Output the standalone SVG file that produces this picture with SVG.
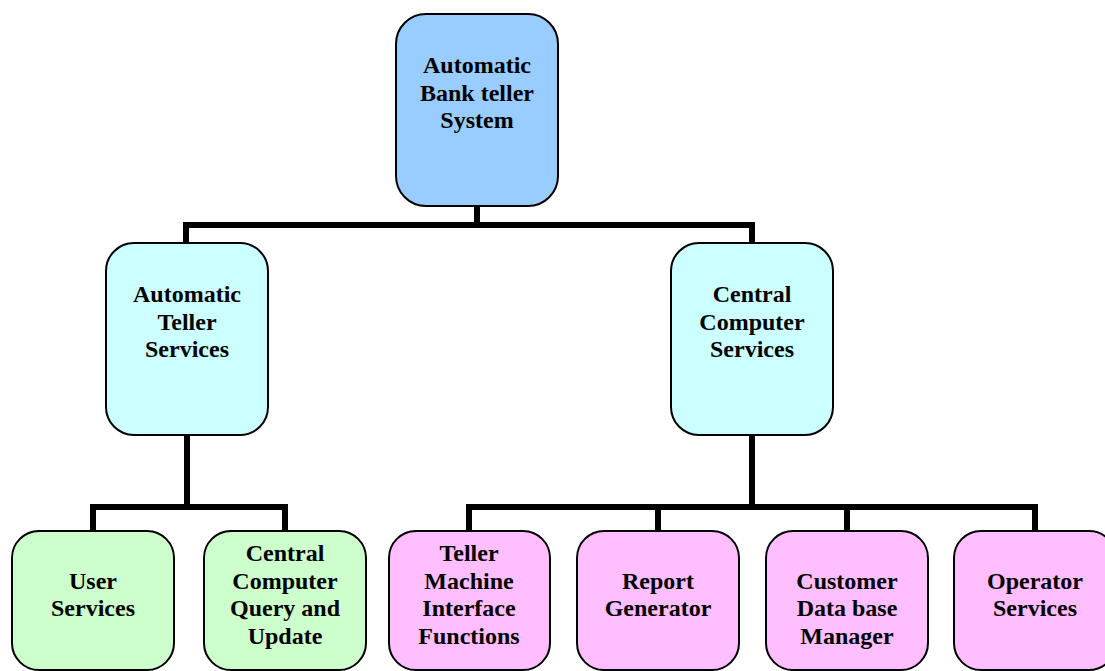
<svg xmlns="http://www.w3.org/2000/svg" width="1105" height="671" viewBox="0 0 1105 671">
<style>
.box{stroke:#000;stroke-width:2}
.top{fill:#99CCFF}
.mid{fill:#CCFFFF}
.grn{fill:#CCFFCC}
.pnk{fill:#FFBEFF}
.lbl{font-family:"Liberation Serif","Times New Roman",serif;font-weight:bold;font-size:24px;text-anchor:middle;fill:#000}
.conn{fill:none;stroke:#000;stroke-width:6;stroke-linejoin:miter;stroke-linecap:butt}
</style>
<rect width="1105" height="671" fill="#fff"/>
<g id="connectors">
<path class="conn" d="M477 206V225M186 243V225H752V243"/>
<path class="conn" d="M187 435V507M93 531V507H285V531"/>
<path class="conn" d="M752 435V507M469 531V507H1035V531M658 507V531M847 507V531"/>
</g>
<g id="n-root">
<rect class="box top" x="396" y="14" width="162" height="192" rx="30"/>
<text class="lbl"><tspan x="477" y="73">Automatic</tspan><tspan x="477" y="101">Bank teller</tspan><tspan x="477" y="128">System</tspan></text>
</g>
<g id="n-ats">
<rect class="box mid" x="106" y="243" width="162" height="192" rx="28"/>
<text class="lbl"><tspan x="187" y="302">Automatic</tspan><tspan x="187" y="330">Teller</tspan><tspan x="187" y="357">Services</tspan></text>
</g>
<g id="n-ccs">
<rect class="box mid" x="671" y="243" width="162" height="192" rx="28"/>
<text class="lbl"><tspan x="752" y="302">Central</tspan><tspan x="752" y="330">Computer</tspan><tspan x="752" y="357">Services</tspan></text>
</g>
<g id="n-user">
<rect class="box grn" x="12" y="531" width="162" height="139" rx="27"/>
<text class="lbl"><tspan x="93" y="589">User</tspan><tspan x="93" y="616">Services</tspan></text>
</g>
<g id="n-ccqu">
<rect class="box grn" x="204" y="531" width="162" height="139" rx="27"/>
<text class="lbl"><tspan x="285" y="561">Central</tspan><tspan x="285" y="589">Computer</tspan><tspan x="285" y="616">Query and</tspan><tspan x="285" y="644">Update</tspan></text>
</g>
<g id="n-tmif">
<rect class="box pnk" x="389" y="531" width="161" height="139" rx="27"/>
<text class="lbl"><tspan x="469" y="561">Teller</tspan><tspan x="469" y="589">Machine</tspan><tspan x="469" y="616">Interface</tspan><tspan x="469" y="644">Functions</tspan></text>
</g>
<g id="n-rg">
<rect class="box pnk" x="577" y="531" width="162" height="139" rx="27"/>
<text class="lbl"><tspan x="658" y="589">Report</tspan><tspan x="658" y="616">Generator</tspan></text>
</g>
<g id="n-cdbm">
<rect class="box pnk" x="766" y="531" width="162" height="139" rx="27"/>
<text class="lbl"><tspan x="847" y="589">Customer</tspan><tspan x="847" y="616">Data base</tspan><tspan x="847" y="644">Manager</tspan></text>
</g>
<g id="n-os">
<rect class="box pnk" x="954" y="531" width="162" height="139" rx="27"/>
<text class="lbl"><tspan x="1035" y="589">Operator</tspan><tspan x="1035" y="616">Services</tspan></text>
</g>
</svg>
